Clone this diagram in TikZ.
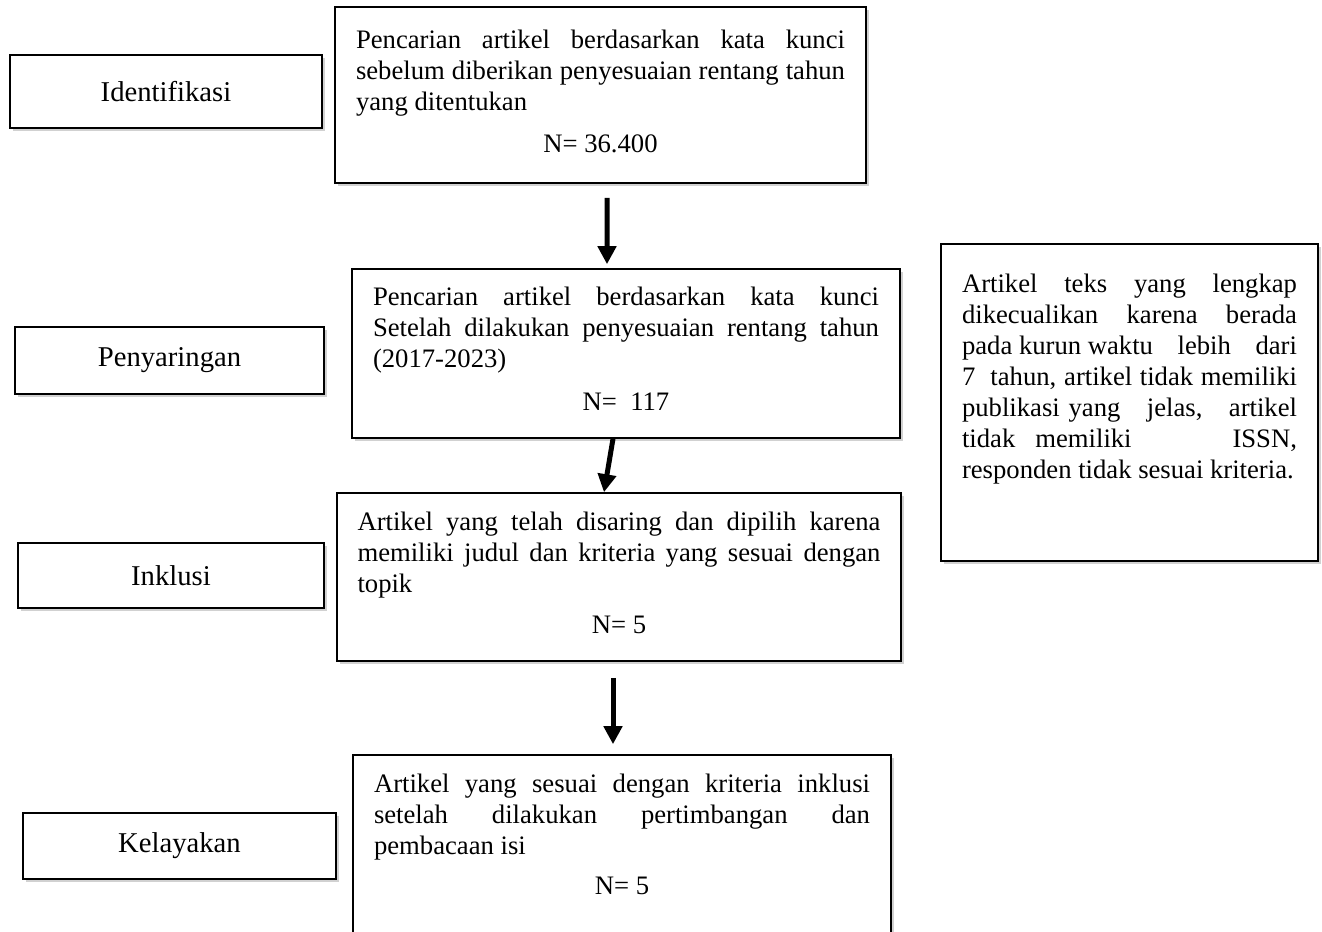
\documentclass[tikz,border=0pt]{standalone}
\usepackage{fontspec}
\setmainfont{Liberation Serif}
\usetikzlibrary{arrows.meta,shadows}
\newcommand{\baris}[1]{\makebox[\linewidth][s]{#1}\par}
\begin{document}
\begin{tikzpicture}[x=0.75pt, y=-0.75pt,
    kotak/.style={draw, line width=1.2pt, fill=white,
      drop shadow={shadow xshift=2pt, shadow yshift=-2pt, fill=black!45, opacity=0.4}},
    tahap/.style={kotak, inner sep=0pt, font=\fontsize{21.5pt}{23.25pt}\selectfont},
    isi/.style={kotak, inner xsep=15.75pt, inner ysep=0pt, font=\fontsize{20pt}{23.25pt}\selectfont},
    panah/.style={line width=3.75pt, -{Triangle[width=13.5pt,length=13.5pt]}}]
  \useasboundingbox (0,0) rectangle (1322,932);
  \clip (0,0) rectangle (1322,932);
  \node [tahap, minimum width=234pt, minimum height=54.75pt] (ident) at (166,91.5) {Identifikasi};
  \node [tahap, minimum width=231.75pt, minimum height=50.25pt] (saring) at (169.5,360.5) {Penyaringan};
  \node [tahap, minimum width=229.5pt, minimum height=48.75pt] (inklusi) at (171,575.5) {Inklusi};
  \node [tahap, minimum width=234.75pt, minimum height=49.5pt] (layak) at (179.5,846) {Kelayakan};
  \node [isi] (cari1) at (600.5,95) {\parbox[c][132pt][t]{366.75pt}{%
    \baris{\rule{0pt}{30.75pt}Pencarian artikel berdasarkan kata kunci}
    \baris{sebelum diberikan penyesuaian rentang tahun}
    yang ditentukan\par\vspace{8.25pt}{\centering N= 36.400\par}}};
  \node [isi] (cari2) at (626,353.5) {\parbox[c][126.75pt][t]{379.5pt}{%
    \baris{\rule{0pt}{27pt}Pencarian artikel berdasarkan kata kunci}
    \baris{Setelah dilakukan penyesuaian rentang tahun}
    (2017-2023)\par\vspace{9pt}{\centering N=\ \ 117\par}}};
  \node [isi, inner xsep=15.4pt] (pilih) at (619,577) {\parbox[c][126pt][t]{392.25pt}{%
    \baris{\rule{0pt}{27.75pt}Artikel yang telah disaring dan dipilih karena}
    \baris{memiliki judul dan kriteria yang sesuai dengan}
    topik\par\vspace{7.5pt}{\centering N= 5\par}}};
  \node [isi] (sesuai) at (622,850) {\parbox[c][142.5pt][t]{372pt}{%
    \baris{\rule{0pt}{27.75pt}Artikel yang sesuai dengan kriteria inklusi}
    \baris{setelah dilakukan pertimbangan dan}
    pembacaan isi\par\vspace{6.75pt}{\centering N= 5\par}}};
  \node [isi] (keluar) at (1129.5,402.5) {\parbox[c][237.75pt][t]{251.25pt}{%
    \baris{\rule{0pt}{36pt}Artikel teks yang lengkap}
    \baris{dikecualikan karena berada}
    \baris{pada kurun waktu\hfill lebih\hfill dari}
    \baris{7\ \ tahun, artikel tidak memiliki}
    \baris{publikasi yang\ \ \ jelas,\ \ \ artikel}
    \baris{tidak\hspace{15pt}memiliki\hfill ISSN,}
    responden tidak sesuai kriteria.\par}};
  \draw [panah, shorten <=10.5pt, shorten >=3pt] ([xshift=4.9pt]cari1.south) -- ([xshift=-14.25pt]cari2.north);
  \draw [panah] ([xshift=-9.75pt]cari2.south) -- ([xshift=-11.25pt]pilih.north);
  \draw [panah, shorten <=12pt, shorten >=7.5pt] ([xshift=-4.5pt]pilih.south) -- ([xshift=-6.75pt]sesuai.north);
\end{tikzpicture}
\end{document}
